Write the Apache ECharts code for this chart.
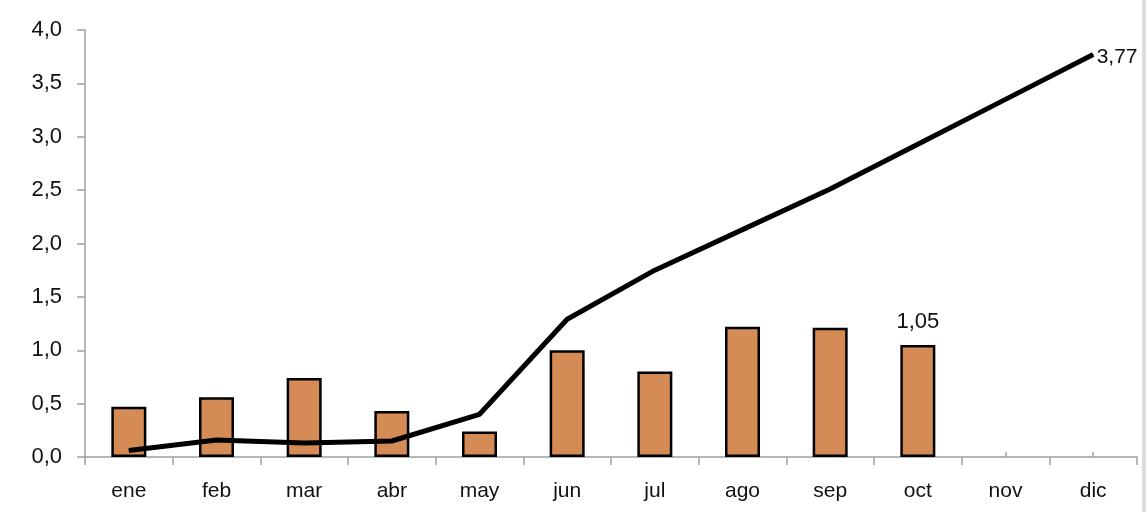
<!DOCTYPE html>
<html>
<head>
<meta charset="utf-8">
<script src="https://cdn.jsdelivr.net/npm/echarts@6/dist/echarts.min.js"></script>
<style>
html,body{margin:0;padding:0;background:#fff;}
#chart{width:1146px;height:524px;}
</style>
</head>
<body>
<div id="chart"></div>
<script>
// Monthly values (bars) and cumulative values (line)
const months = ['ene','feb','mar','abr','may','jun','jul','ago','sep','oct','nov','dic'];
const monthly = [0.47, 0.56, 0.74, 0.43, 0.24, 1.00, 0.80, 1.22, 1.21, 1.05, null, null];
const cumulative = [0.06, 0.16, 0.13, 0.15, 0.40, 1.29, 1.75, 2.13, 2.51, 2.93, 3.35, 3.77];
const yTicks = [0, 0.5, 1.0, 1.5, 2.0, 2.5, 3.0, 3.5, 4.0];

const fmt = (v, d) => v.toFixed(d).replace('.', ',');
const font = '"Liberation Sans", Arial, sans-serif';
const axisGray = '#a0a0a0';
const textColor = '#111';

const chart = echarts.init(document.getElementById('chart'));
chart.setOption({
  animation: false,
  grid: { left: 85, right: 9, top: 30, bottom: 67 },
  xAxis: [
    {
      type: 'category',
      data: months,
      boundaryGap: true,
      axisLine: { lineStyle: { color: axisGray, width: 1.5 } },
      axisTick: { show: true, length: 8, lineStyle: { color: axisGray, width: 1.5 } },
      axisLabel: { color: textColor, fontSize: 21, fontFamily: font, margin: 24 }
    },
    {
      type: 'category',
      data: months,
      position: 'bottom',
      boundaryGap: true,
      axisLine: { show: false },
      axisTick: { show: true, inside: true, alignWithLabel: true, length: 5, lineStyle: { color: axisGray, width: 1.5 } },
      axisLabel: { show: false }
    }
  ],
  yAxis: {
    type: 'value',
    min: yTicks[0],
    max: yTicks[yTicks.length - 1],
    interval: yTicks[1] - yTicks[0],
    axisLine: { show: true, lineStyle: { color: axisGray, width: 1.5 } },
    axisTick: { show: true, length: 8, lineStyle: { color: axisGray, width: 1.5 } },
    splitLine: { show: false },
    axisLabel: {
      color: textColor, fontSize: 22, fontFamily: font, margin: 23,
      formatter: v => fmt(v, 1)
    }
  },
  series: [
    {
      type: 'bar',
      data: monthly.map((v, i) => ({
        value: v,
        label: i === 9 ? {
          show: true, position: 'top', distance: 12,
          formatter: p => fmt(p.value, 2),
          color: textColor, fontSize: 22, fontFamily: font
        } : { show: false }
      })),
      barWidth: 35,
      itemStyle: { color: '#D58B55', borderColor: '#000', borderWidth: 2.5 }
    },
    {
      type: 'line',
      data: cumulative.map((v, i) => ({
        value: v,
        label: i === 11 ? {
          show: true, position: 'right', distance: 3, offset: [0, 3],
          formatter: p => fmt(p.value, 2),
          color: textColor, fontSize: 21, fontFamily: font
        } : { show: false }
      })),
      symbol: 'circle',
      symbolSize: 1,
      showSymbol: true,
      itemStyle: { color: '#000' },
      lineStyle: { color: '#000', width: 5 },
      z: 5
    }
  ],
  graphic: [
    { type: 'rect', shape: { x: 1142, y: 0, width: 4, height: 512 }, style: { fill: '#dcdcdc' } }
  ]
});
</script>
</body>
</html>
